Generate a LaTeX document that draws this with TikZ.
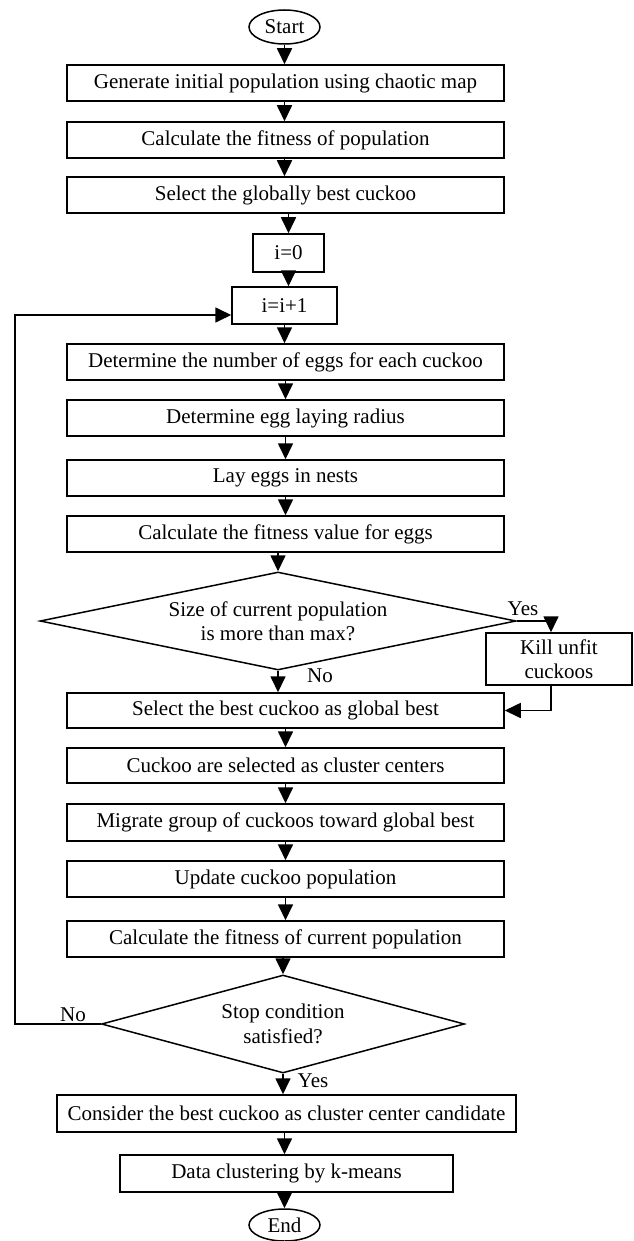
\documentclass[tikz,border=0pt]{standalone}
\usepackage{fontspec}
\setmainfont{Liberation Serif}
\usetikzlibrary{shapes.geometric,arrows.meta}
\begin{document}
\begin{tikzpicture}[x=1pt,y=-1pt,
  every node/.style={font=\fontsize{21}{24.5}\selectfont, inner sep=0pt},
  proc/.style={draw, line width=1.5pt, minimum width=437pt, minimum height=36pt},
  term/.style={draw, ellipse, line width=1.5pt, minimum width=71pt, minimum height=34pt},
  dec/.style={draw, diamond, line width=1.5pt, align=center},
  arr/.style={line width=1.7pt, -{Triangle[width=15pt,length=16pt]}}]
\useasboundingbox (0,0) rectangle (633,1241);

\node[term] (start) at (284.5,27) {Start};
\node[proc] (b1) at (285.5,83) {Generate initial population using chaotic map};
\node[proc] (b2) at (285.5,140) {Calculate the fitness of population};
\node[proc] (b3) at (285.5,195) {Select the globally best cuckoo};
\node[proc, minimum width=71pt, minimum height=38pt] (i0) at (288.5,253) {i=0};
\node[proc, minimum width=105pt, minimum height=37pt] (inc) at (284.5,305.5) {i=i+1};
\node[proc] (b4) at (285.5,362) {Determine the number of eggs for each cuckoo};
\node[proc] (b5) at (285.5,418) {Determine egg laying radius};
\node[proc] (b6) at (285.5,478) {Lay eggs in nests};
\node[proc] (b7) at (285.5,534) {Calculate the fitness value for eggs};
\node[dec, minimum width=476pt, minimum height=98pt, aspect=4.86] (d1) at (278,621)
  {Size of current population\\is more than max?};
\node[proc, minimum width=146pt, minimum height=52pt, align=center] (kill) at (559,659)
  {Kill unfit\\cuckoos};
\node[proc, minimum height=35pt] (b8) at (285.5,710.5) {Select the best cuckoo as global best};
\node[proc, minimum height=35pt] (b9) at (285.5,765.5) {Cuckoo are selected as cluster centers};
\node[proc, minimum height=37pt] (b10) at (285.5,822.5) {Migrate group of cuckoos toward global best};
\node[proc] (b11) at (285.5,879) {Update cuckoo population};
\node[proc] (b12) at (285.5,939) {Calculate the fitness of current population};
\node[dec, minimum width=363pt, minimum height=98pt, aspect=3.7] (d2) at (283,1024)
  {Stop condition\\satisfied?};
\node[proc, minimum width=459pt, minimum height=37pt] (b13) at (286.5,1113.5)
  {Consider the best cuckoo as cluster center candidate};
\node[proc, minimum width=333pt, minimum height=37pt] (b14) at (286.5,1173.5)
  {Data clustering by k-means};
\node[term, minimum height=32pt] (end) at (284.5,1225) {End};

\node (yes1) at (523,609) {Yes};
\node (no1) at (320,676) {No};
\node (no2) at (73,1015) {No};
\node (yes2) at (313,1081) {Yes};

\coordinate (loopc) at (15,1024);

\draw[arr] (start) -- (start.south |- b1.north);
\draw[arr] (b1.south -| start.south) -- (start.south |- b2.north);
\draw[arr] (b2.south -| start.south) -- (start.south |- b3.north);
\draw[arr] (b3.south -| i0.north) -- (i0.north);
\draw[arr] (i0.south) -- (i0.south |- inc.north);
\draw[arr] (inc.south) -- (inc.south |- b4.north);
\draw[arr] (b4.south) -- (b5.north);
\draw[arr] (b5.south) -- (b6.north);
\draw[arr] (b6.south) -- (b7.north);
\draw[arr] (b7.south -| d1.north) -- (d1.north);
\draw[arr] (d1.south) -- (d1.south |- b8.north);
\draw[arr] (d1.east) -| ([xshift=-8pt]kill.north);
\draw[arr] ([xshift=-8pt]kill.south) |- (b8.east);
\draw[arr] (b8.south) -- (b9.north);
\draw[arr] (b9.south) -- (b10.north);
\draw[arr] (b10.south) -- (b11.north);
\draw[arr] (b11.south) -- (b12.north);
\draw[arr] (b12.south -| d2.north) -- (d2.north);
\draw[arr] (d2.south) -- (d2.south |- b13.north);
\draw[arr] (d2.west) -- (loopc) |- ([yshift=-9.5pt]inc.west);
\draw[arr] (b13.south -| end.north) -- (end.north |- b14.north);
\draw[arr] (b14.south -| end.north) -- (end.north);
\end{tikzpicture}
\end{document}
